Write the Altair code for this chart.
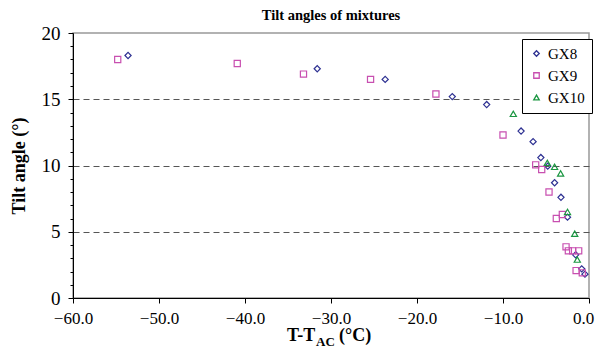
import altair as alt
import pandas as pd

# ---- data ----
gx8_x = [-53.6, -31.6, -23.7, -15.9, -11.9, -7.9, -6.5, -5.6, -4.8, -4.0, -3.26, -2.5, -1.55, -0.85, -0.47]
gx8_y = [18.3, 17.3, 16.5, 15.2, 14.6, 12.6, 11.8, 10.6, 9.95, 8.7, 7.6, 6.1, 3.26, 2.2, 1.8]

gx9_x = [-54.8, -40.9, -33.2, -25.4, -17.8, -10.0, -6.2, -5.5, -4.65, -3.8, -3.1, -2.67, -2.4, -1.9, -1.2, -1.5, -0.78]
gx9_y = [18.0, 17.7, 16.9, 16.5, 15.4, 12.3, 10.05, 9.7, 8.0, 6.0, 6.3, 3.86, 3.56, 3.56, 3.56, 2.07, 1.9]

gx10_x = [-8.8, -4.85, -4.0, -3.3, -2.5, -1.66, -1.36]
gx10_y = [13.9, 10.2, 9.9, 9.4, 6.5, 4.85, 2.9]

series_names = ["GX8", "GX9", "GX10"]
series_colors = ["#2e3192", "#c84fb0", "#1a9641"]
series_shapes = ["diamond", "square", "triangle-up"]

x_ticks = [-60, -50, -40, -30, -20, -10, 0]
y_ticks = list(range(0, 21))

chart_title = ["Tilt angles of mixtures"]
y_title = "Tilt angle (°)"
x_title_parts = ["T-T", "AC", "(°C)"]

rows = []
for name, xs, ys in [("GX8", gx8_x, gx8_y), ("GX9", gx9_x, gx9_y), ("GX10", gx10_x, gx10_y)]:
    for a, b in zip(xs, ys):
        rows.append({"series": name, "x": a, "y": b})
df = pd.DataFrame(rows)

FONT = "Liberation Serif"
W, H = 516, 265

points = alt.Chart(df).mark_point(filled=False, strokeWidth=1.2, size=38, opacity=1).encode(
    x=alt.X("x:Q", scale=alt.Scale(domain=[-60, 0], nice=False),
            axis=alt.Axis(values=x_ticks, title=None, grid=False, labelFlush=False,
                          labelExpr="replace(format(datum.value, '.1f'), '-', '–')",
                          labelOffset={"condition": {"test": "datum.value === 0", "value": -6}, "value": 0},
                          labelFont=FONT, labelFontSize=17, labelColor="black",
                          tickSize=5, tickColor="black", domainColor="black",
                          labelPadding=7)),
    y=alt.Y("y:Q", scale=alt.Scale(domain=[0, 20], nice=False),
            axis=alt.Axis(values=y_ticks, title=y_title, labelFlush=False,
                          labelExpr="datum.value % 5 === 0 ? datum.value : ''",
                          labelFont=FONT, labelFontSize=19, labelColor="black",
                          titleFont=FONT, titleFontSize=18, titleFontWeight="bold",
                          titleColor="black", titlePadding=13,
                          tickColor="black", domainColor="black",
                          tickSize={"condition": {"test": "datum.value % 5 === 0", "value": 5}, "value": 3},
                          grid=True, gridColor="#555555", gridDash=[6, 4], gridWidth=1.2,
                          gridOpacity={"condition": {"test": "datum.value % 5 === 0 && datum.value > 0 && datum.value < 20", "value": 1}, "value": 0},
                          labelPadding=8)),
    color=alt.Color("series:N", scale=alt.Scale(domain=series_names, range=series_colors),
                    legend=alt.Legend(title=None, orient="none", legendX=449, legendY=6,
                                      strokeColor="black", fillColor="white", padding=7,
                                      labelFont=FONT, labelFontSize=15, labelColor="black",
                                      symbolSize=30, symbolStrokeWidth=1.3, rowPadding=6)),
    shape=alt.Shape("series:N", scale=alt.Scale(domain=series_names, range=series_shapes),
                    legend=alt.Legend(title=None, orient="none", legendX=449, legendY=6)),
)

def label(texts, size, x, y):
    return alt.Chart(pd.DataFrame({"t": texts})).mark_text(
        font=FONT, fontSize=size, fontWeight="bold", align="left",
        baseline="alphabetic", color="black").encode(
        text="t:N", x=alt.value(x), y=alt.value(y))

xt1 = label([x_title_parts[0]], 18, 214, 308)
xt2 = label([x_title_parts[1]], 13, 243, 313)
xt3 = label([x_title_parts[2]], 18, 266, 308)
ttl = alt.Chart(pd.DataFrame({"t": chart_title})).mark_text(
    font=FONT, fontSize=14.5, fontWeight="bold", align="center",
    baseline="alphabetic", color="black").encode(
    text="t:N", x=alt.value(W / 2), y=alt.value(-13))

chart = alt.layer(points, xt1, xt2, xt3, ttl).properties(
    width=W, height=H,
    autosize=alt.AutoSizeParams(type="none"),
    padding={"left": 65, "top": 25, "right": 6, "bottom": 52},
).configure(background="white", font=FONT).configure_view(
    stroke="#999999", strokeWidth=1.5
).configure_axis(labelFont=FONT, titleFont=FONT).configure_legend(labelFont=FONT)

chart.save("out.html", embed_options={"renderer": "svg", "actions": False})
